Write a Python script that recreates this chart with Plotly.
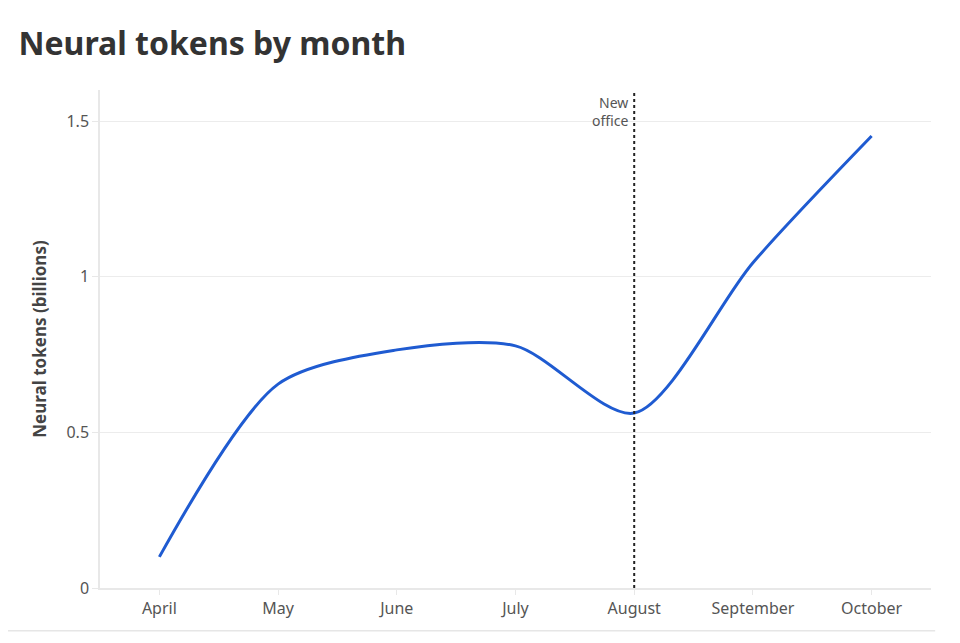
import plotly.graph_objects as go

months = ["April", "May", "June", "July", "August", "September", "October"]
tokens = [0.10, 0.655, 0.765, 0.778, 0.562, 1.045, 1.452]

event_month = "August"
event_label = "New<br>office"

font = "Noto Sans"

fig = go.Figure()
fig.add_trace(
    go.Scatter(
        x=months,
        y=tokens,
        mode="lines",
        line=dict(color="#1f5bd1", width=3, shape="spline", smoothing=0.8),
        hoverinfo="x+y",
    )
)

# marker for the office move
fig.add_shape(
    type="line",
    xref="x",
    yref="paper",
    x0=event_month,
    x1=event_month,
    y0=0,
    y1=1,
    line=dict(color="#222222", width=2, dash="dot"),
)
fig.add_annotation(
    x=event_month,
    y=1,
    xref="x",
    yref="paper",
    text=event_label,
    showarrow=False,
    xanchor="right",
    yanchor="top",
    xshift=-4,
    yshift=-1,
    align="right",
    font=dict(family=font, size=14, color="#555555"),
)

# thin rule under the chart
fig.add_shape(
    type="line",
    xref="paper",
    yref="paper",
    x0=-0.114,
    x1=1.005,
    y0=-0.086,
    y1=-0.086,
    line=dict(color="#e6e6e6", width=1.5),
)

fig.update_layout(
    width=952,
    height=635,
    margin=dict(l=92, r=29, t=82, b=55),
    paper_bgcolor="white",
    plot_bgcolor="white",
    showlegend=False,
    title=dict(
        text="<b>Neural tokens by month</b>",
        x=0.011,
        xanchor="left",
        y=0.943,
        yanchor="middle",
        font=dict(family=font, size=32, color="#333333"),
    ),
    font=dict(family=font, color="#555555"),
)
fig.update_xaxes(
    range=[-0.5, 6.5],
    showgrid=False,
    showline=True,
    linecolor="#e8e8e8",
    linewidth=1.5,
    ticks="outside",
    ticklen=5,
    tickcolor="#e8e8e8",
    tickfont=dict(family=font, size=16, color="#555555"),
    fixedrange=True,
)
fig.update_yaxes(
    range=[0, 1.6],
    tickvals=[0, 0.5, 1, 1.5],
    ticktext=["0", "0.5", "1", "1.5"],
    showgrid=True,
    gridcolor="#ececec",
    gridwidth=1,
    showline=True,
    linecolor="#e8e8e8",
    linewidth=1.5,
    ticks="outside",
    ticklen=6,
    tickcolor="#e8e8e8",
    zeroline=False,
    tickfont=dict(family=font, size=16, color="#555555"),
    title=dict(
        text="<b>Neural tokens (billions)</b>",
        font=dict(family=font, size=17, color="#444444"),
        standoff=16,
    ),
    fixedrange=True,
)

fig.write_html("out.html")
